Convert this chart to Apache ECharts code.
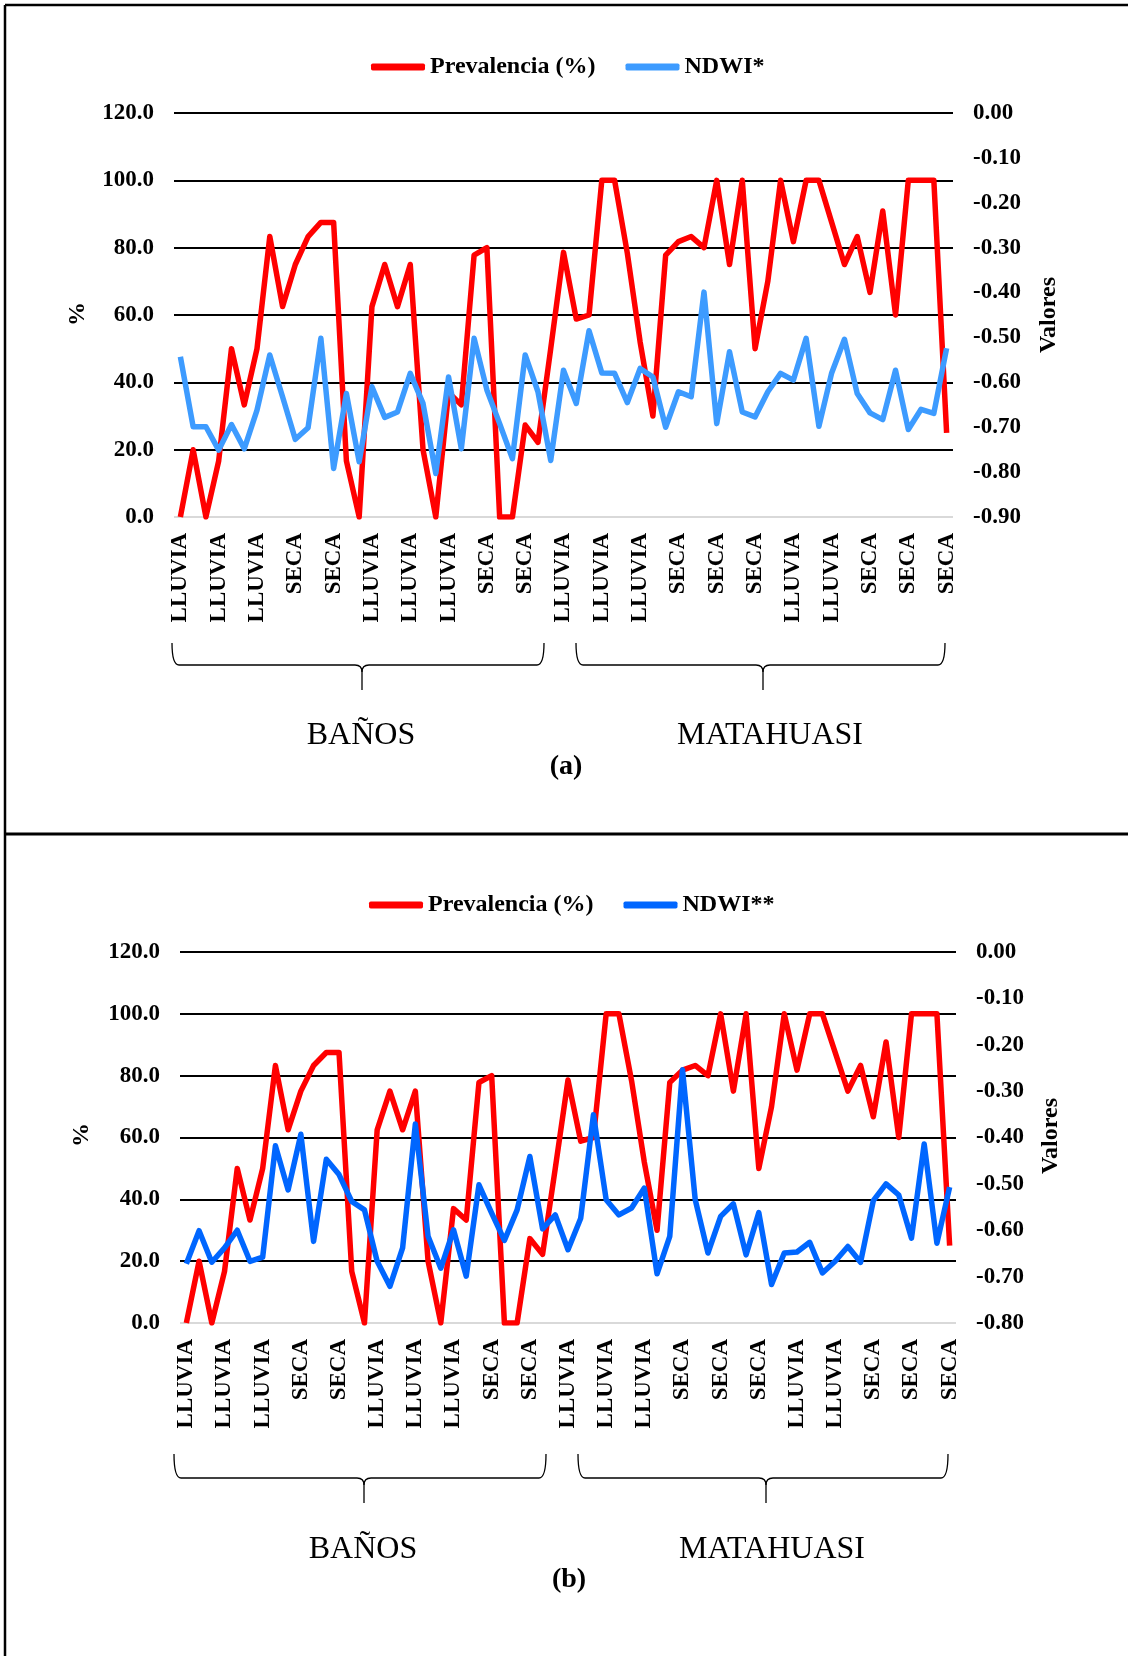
<!DOCTYPE html>
<html><head><meta charset="utf-8">
<script src="https://cdn.jsdelivr.net/npm/echarts@6/dist/echarts.min.js"></script>
<style>html,body{margin:0;padding:0;background:#fff}#c{width:1128px;height:1656px}</style>
</head><body><div id="c"></div>
<script>
// ---- data ----
const categories = [
 'LLUVIA','LLUVIA','LLUVIA','LLUVIA','LLUVIA','LLUVIA','LLUVIA','LLUVIA','LLUVIA',
 'SECA','SECA','SECA','SECA','SECA','SECA',
 'LLUVIA','LLUVIA','LLUVIA','LLUVIA','LLUVIA','LLUVIA','LLUVIA','LLUVIA','LLUVIA',
 'SECA','SECA','SECA','SECA','SECA','SECA',
 'LLUVIA','LLUVIA','LLUVIA','LLUVIA','LLUVIA','LLUVIA','LLUVIA','LLUVIA','LLUVIA',
 'SECA','SECA','SECA','SECA','SECA','SECA','SECA','SECA','SECA',
 'LLUVIA','LLUVIA','LLUVIA','LLUVIA','LLUVIA','LLUVIA',
 'SECA','SECA','SECA','SECA','SECA','SECA','SECA'
];
const prevalencia = [0, 20, 0, 16.7, 50, 33.3, 50, 83.3, 62.5, 75, 83.3, 87.5, 87.5, 16.7, 0, 62.5, 75, 62.5, 75, 20,
 0, 37, 33.3, 77.8, 80, 0, 0, 27.3, 22.2, 50, 78.6, 58.8, 60, 100, 100, 78.3, 52, 30, 77.8, 81.8,
 83.3, 80, 100, 75, 100, 50, 70, 100, 81.8, 100, 100, 87.5, 75, 83.3, 66.7, 90.9, 60, 100, 100, 100, 25];
const ndwiA = [-0.543, -0.699, -0.699, -0.751, -0.694, -0.748, -0.662, -0.539, -0.632, -0.727, -0.701, -0.502, -0.792, -0.625, -0.777,
 -0.610, -0.678, -0.666, -0.580, -0.647, -0.803, -0.588, -0.748, -0.502, -0.617, -0.692, -0.770, -0.539, -0.621, -0.774,
 -0.573, -0.647, -0.485, -0.579, -0.580, -0.645, -0.569, -0.588, -0.700, -0.621, -0.632, -0.399, -0.692, -0.532, -0.666,
 -0.677, -0.621, -0.580, -0.595, -0.502, -0.698, -0.579, -0.504, -0.625, -0.668, -0.683, -0.573, -0.705, -0.660, -0.669, -0.524];
const ndwiB = [-0.672, -0.601, -0.669, -0.638, -0.600, -0.667, -0.658, -0.418, -0.513, -0.393, -0.624, -0.447, -0.480, -0.538, -0.556,
 -0.667, -0.721, -0.638, -0.371, -0.613, -0.682, -0.599, -0.699, -0.502, -0.563, -0.622, -0.556, -0.441, -0.597, -0.567,
 -0.642, -0.574, -0.351, -0.534, -0.567, -0.552, -0.509, -0.694, -0.613, -0.254, -0.534, -0.649, -0.570, -0.543, -0.653,
 -0.562, -0.717, -0.649, -0.647, -0.626, -0.692, -0.667, -0.635, -0.669, -0.536, -0.500, -0.524, -0.617, -0.414, -0.628, -0.507];
const leftAxis = {min: 0, max: 120, interval: 20};
const rightAxisA = {min: -0.9, max: 0, interval: 0.1};
const rightAxisB = {min: -0.8, max: 0, interval: 0.1};
const groups = ['BAÑOS', 'MATAHUASI'];

// ---- style ----
const FONT = '"Liberation Serif", "Times New Roman", serif';
const RED = '#FF0000', BLUE_A = '#3D9BFF', BLUE_B = '#0066FF';
const gridColors = ['#D9D9D9', '#000', '#000', '#000', '#000', '#000', '#000'];

function leftY(gridIndex) {
  return {
    type: 'value', gridIndex, position: 'left', min: leftAxis.min, max: leftAxis.max, interval: leftAxis.interval,
    axisLine: {show: false}, axisTick: {show: false},
    axisLabel: {margin: 20, formatter: v => v.toFixed(1), fontFamily: FONT, fontWeight: 'bold', fontSize: 23, color: '#000'},
    splitLine: {show: true, lineStyle: {color: gridColors, width: 2}}
  };
}
function rightY(gridIndex, r) {
  return {
    type: 'value', gridIndex, position: 'right', min: r.min, max: r.max, interval: r.interval,
    axisLine: {show: false}, axisTick: {show: false}, splitLine: {show: false},
    axisLabel: {margin: 20, formatter: v => (Math.abs(v) < 1e-9 ? '0.00' : v.toFixed(2)), fontFamily: FONT, fontWeight: 'bold', fontSize: 23, color: '#000'}
  };
}
function xAx(gridIndex) {
  return {
    type: 'category', gridIndex, data: categories, boundaryGap: true,
    axisLine: {show: false}, axisTick: {show: false}, splitLine: {show: false},
    axisLabel: {interval: 2, rotate: 90, margin: 16, fontFamily: FONT, fontWeight: 'bold', fontSize: 23, color: '#000'}
  };
}
function line(name, xi, yi, data, color) {
  return {name, type: 'line', xAxisIndex: xi, yAxisIndex: yi, data, color, symbol: 'none', showSymbol: false,
    lineStyle: {width: 5.5, color, join: 'round'}, animation: false};
}
const braceStyle = {stroke: '#000', lineWidth: 1.3, fill: null};
function seg(x1, y1, x2, y2) { return {type: 'line', shape: {x1, y1, x2, y2}, style: braceStyle}; }
function curve(x1, y1, cx, cy, x2, y2) { return {type: 'bezierCurve', shape: {x1, y1, cpx1: cx, cpy1: cy, x2, y2}, style: braceStyle}; }
function brace(x0, x1, xc, yTop, yH, yTip) {
  const r = 7;
  return [
    curve(x0, yTop, x0, yH, x0 + r, yH),
    seg(x0 + r, yH, xc - r, yH),
    curve(xc - r, yH, xc, yH, xc, yH + r),
    curve(xc + r, yH, xc, yH, xc, yH + r),
    seg(xc, yH + r, xc, yTip),
    seg(xc + r, yH, x1 - r, yH),
    curve(x1 - r, yH, x1, yH, x1, yTop)
  ];
}
function txt(x, y, text, size, bold, rot) {
  return {type: 'text', x, y, rotation: rot || 0, style: {text, fontFamily: FONT, fontSize: size, fontWeight: bold ? 'bold' : 'normal',
    fill: '#000', align: 'center', verticalAlign: 'middle'}};
}
const legendText = {fontFamily: FONT, fontWeight: 'bold', fontSize: 24, color: '#000'};

const chart = echarts.init(document.getElementById('c'), null, {renderer: 'canvas'});
chart.setOption({
  backgroundColor: '#fff',
  animation: false,
  grid: [
    {left: 174, right: 175, top: 113, height: 404},
    {left: 180, right: 172, top: 952, height: 371}
  ],
  legend: [
    {data: ['Prevalencia (%)', 'NDWI*'], left: 366, top: 50, icon: 'roundRect', itemWidth: 54, itemHeight: 7, itemGap: 30, textStyle: legendText},
    {data: ['Prevalencia (%)', 'NDWI**'], left: 364, top: 888, icon: 'roundRect', itemWidth: 54, itemHeight: 7, itemGap: 30, textStyle: legendText}
  ],
  xAxis: [xAx(0), xAx(1)],
  yAxis: [leftY(0), rightY(0, rightAxisA), leftY(1), rightY(1, rightAxisB)],
  series: [
    line('Prevalencia (%)', 0, 0, prevalencia, RED),
    line('NDWI*', 0, 1, ndwiA, BLUE_A),
    line('Prevalencia (%)', 1, 2, prevalencia, RED),
    line('NDWI**', 1, 3, ndwiB, BLUE_B)
  ],
  graphic: [
    {type: 'line', shape: {x1: 5, y1: 5, x2: 1128, y2: 5}, style: {stroke: '#000', lineWidth: 2.5}},
    {type: 'line', shape: {x1: 5, y1: 5, x2: 5, y2: 1656}, style: {stroke: '#000', lineWidth: 2.5}},
    {type: 'line', shape: {x1: 5, y1: 834, x2: 1128, y2: 834}, style: {stroke: '#000', lineWidth: 3}},
    txt(78, 314, '%', 24, true, Math.PI / 2),
    txt(1049, 315, 'Valores', 24, true, Math.PI / 2),
    txt(82, 1135, '%', 24, true, Math.PI / 2),
    txt(1051, 1136, 'Valores', 24, true, Math.PI / 2),
    ...brace(172, 544, 362, 643, 665, 690),
    ...brace(576, 945, 763, 643, 665, 690),
    ...brace(174, 546, 364, 1454, 1478, 1503),
    ...brace(578, 948, 766, 1454, 1478, 1503),
    txt(361, 736, groups[0], 32, false),
    txt(770, 736, groups[1], 32, false),
    txt(566, 767, '(a)', 28, true),
    txt(363, 1550, groups[0], 32, false),
    txt(772, 1550, groups[1], 32, false),
    txt(569, 1580, '(b)', 28, true)
  ]
});
</script>
</body></html>
